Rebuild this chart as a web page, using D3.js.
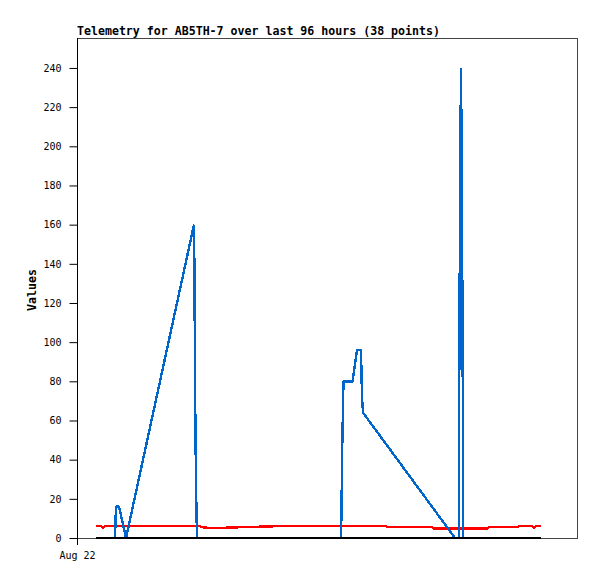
<!DOCTYPE html>
<html><head><meta charset="utf-8">
<script src="https://cdn.jsdelivr.net/npm/d3@7"></script>
<style>
body{margin:0;background:#fff;}
svg{display:block;}
text{font-family:"DejaVu Sans Mono",monospace;}
</style></head><body>
<div id="chart"></div>
<script>
// Hours since Aug 22 00:00 (x axis)
const title = "Telemetry for AB5TH-7 over last 96 hours (38 points)";
const yLabel = "Values";
const xTickHours = [0];
const xTickLabels = ["Aug 22"];
const yTicks = [0,20,40,60,80,100,120,140,160,180,200,220,240];

const blueHours  = [3.8, 7.6, 7.8, 8.4, 9.8, 23.4, 23.5, 23.6, 23.8, 24.0, 52.8, 52.9, 53.0, 53.2, 53.3, 55.1, 56.0, 56.8, 57.0, 57.2, 75.6, 76.38, 76.42, 76.62, 76.8, 76.98, 77.18, 77.22, 92.8];
const blueValues = [0,   0,   16,  16,  0,   160,  133,  80,   27,   0,    0,    13,   40,   67,   80,   80,   96,   96,   72,   64,   0,    0,     60,    180,   240,  180,   60,    0,     0];

const redHours  = [3.8, 4.8, 5.2, 5.6, 24.6, 25.0, 27.0, 32.6, 39.6, 61.8, 62.2, 71.0, 71.4, 82.0, 82.4, 88.0, 88.4, 91.0, 91.4, 91.8, 92.8];
const redValues = [6.0, 6.0, 5.0, 6.0, 6.0,  5.5,  5.0,  5.5,  6.0,  6.0,  5.5,  5.5,  4.8,  4.8,  5.5,  5.5,  6.0,  6.0,  5.0,  6.0,  6.0];

const blackHours  = [3.8, 24.6, 52.8, 76.4, 92.8];
const blackValues = [0,   0,    0,    0,    0];

const W = 597, H = 579;
const m = {left:77, right:20, top:38, bottom:41};
const svg = d3.select("#chart").append("svg").attr("width", W).attr("height", H);

const x = d3.scaleLinear().domain([0,100]).range([m.left, W - m.right]);
const y = d3.scaleLinear().domain([0,255.3]).range([H - m.bottom, m.top]);

// frame
svg.append("rect").attr("x", m.left+0.5).attr("y", m.top+0.5)
  .attr("width", W-m.right-m.left).attr("height", H-m.bottom-m.top)
  .attr("fill","none").attr("stroke","#444").attr("stroke-width",1);

// title
svg.append("text").attr("x", m.left).attr("y", 35)
  .attr("font-size","11.6px").attr("font-weight","bold").attr("fill","#000").text(title);

// y axis
const yAxis = d3.axisLeft(y).tickValues(yTicks).tickSize(8).tickPadding(8).tickFormat(d3.format("d"));
const ga = svg.append("g").attr("transform",`translate(${m.left+0.5},0)`).call(yAxis);
ga.select(".domain").attr("stroke","#000").attr("d", `M0,${m.top}V${H-m.bottom+7}`);
ga.selectAll(".tick line").attr("stroke","#000");
ga.selectAll("text").attr("font-family","'DejaVu Sans Mono',monospace").attr("font-size","10px").attr("fill","#000");

// y label
svg.append("text").attr("transform",`translate(36,290) rotate(-90)`)
  .attr("text-anchor","middle").attr("font-size","11.6px").attr("font-weight","bold").text(yLabel);

// x axis (single tick)
const xAxis = d3.axisBottom(x).tickValues(xTickHours).tickSize(0).tickPadding(14)
  .tickFormat((d,i)=>xTickLabels[i]);
const gx = svg.append("g").attr("transform",`translate(0,${H-m.bottom})`).call(xAxis);
gx.select(".domain").remove();
gx.selectAll("text").attr("font-family","'DejaVu Sans Mono',monospace").attr("font-size","10px").attr("fill","#000");

const line = d3.line().x(d=>x(d[0])).y(d=>y(d[1]));
function draw(hours, vals, color){
  svg.append("path").datum(hours.map((h,i)=>[h, vals[i]]))
    .attr("d", line).attr("fill","none").attr("stroke", color)
    .attr("stroke-width", 2.4).attr("stroke-linejoin","bevel").attr("shape-rendering","crispEdges");
}
draw(redHours, redValues, "#ff0000");
draw(blueHours, blueValues, "#0066cc");
draw(blackHours, blackValues, "#000000");
</script>
</body></html>
